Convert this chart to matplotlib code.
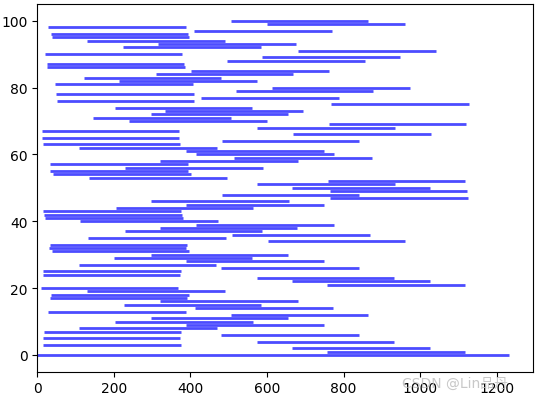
import matplotlib
matplotlib.use("Agg")
import matplotlib.pyplot as plt

# one interval per row, row index = y
ys = list(range(101))
starts = [
    0, 756.8, 665.3, 14.8, 573.9, 14.8, 479.8, 17.4, 108.9, 388.4,
    202.9, 297.0, 506.0, 27.9, 411.9, 226.4, 320.5, 33.1, 35.7, 129.8,
    9.6, 756.8, 665.3, 573.9, 14.8, 14.8, 479.8, 108.9, 388.4, 200.3,
    297.0, 38.3, 30.5, 33.1, 602.6, 132.4, 508.6, 229.0, 320.5, 414.5,
    111.5, 20.0, 17.4, 14.8, 205.5, 388.4, 297.0, 764.6, 482.5, 764.6,
    665.3, 573.9, 759.4, 135.0, 40.9, 33.1, 229.0, 33.1, 320.5, 513.8,
    414.5, 388.4, 108.9, 14.8, 482.5, 12.2, 667.9, 12.2, 573.9, 762.0,
    239.5, 145.4, 297.0, 333.5, 202.9, 767.2, 51.4, 427.6, 48.8, 519.0,
    613.1, 46.2, 213.4, 121.9, 310.0, 401.5, 25.3, 25.3, 495.5, 587.0,
    20.0, 681.0, 223.8, 315.2, 129.8, 38.3, 35.7, 409.3, 27.9, 600.0,
    506.0,
]
ends = [
    1232.3, 1117.3, 1025.9, 375.3, 931.8, 372.7, 840.4, 375.3, 469.4, 748.9,
    563.4, 654.9, 863.9, 388.4, 772.4, 584.3, 681.0, 391.0, 396.2, 490.3,
    367.5, 1117.3, 1025.9, 931.8, 372.7, 375.3, 840.4, 466.8, 748.9, 560.8,
    654.9, 396.2, 388.4, 391.0, 960.6, 492.9, 869.1, 587.0, 678.4, 775.1,
    472.0, 380.5, 377.9, 375.3, 563.4, 748.9, 657.5, 1125.1, 840.4, 1122.5,
    1025.9, 934.4, 1117.3, 495.5, 401.5, 393.6, 589.6, 393.6, 681.0, 874.3,
    775.1, 748.9, 469.4, 372.7, 840.4, 370.1, 1028.5, 370.1, 934.4, 1119.9,
    600.0, 506.0, 654.9, 694.1, 560.8, 1127.7, 409.3, 788.1, 409.3, 876.9,
    973.6, 406.7, 573.9, 479.8, 668.0, 762.0, 385.8, 383.2, 856.0, 947.5,
    377.9, 1041.5, 584.3, 675.8, 490.3, 396.2, 393.6, 769.8, 388.4, 960.6,
    863.9,
]

fig = plt.figure(figsize=(5.37, 4.02), dpi=100)
ax = fig.add_axes([0.0695, 0.0729, 0.9225, 0.9147])
ax.hlines(ys, starts, ends, colors="blue", alpha=0.7, linewidth=2)
ax.set_xlim(0, 1294)
ax.set_ylim(-5, 105)

# faint watermark
fig.text(0.748, 0.035, "CSDN @Lin品丹", color="#bbbbbb", fontsize=10, alpha=0.8,
         family=["DejaVu Sans", "Noto Sans CJK SC"])

fig.savefig("out.png", dpi=100)
